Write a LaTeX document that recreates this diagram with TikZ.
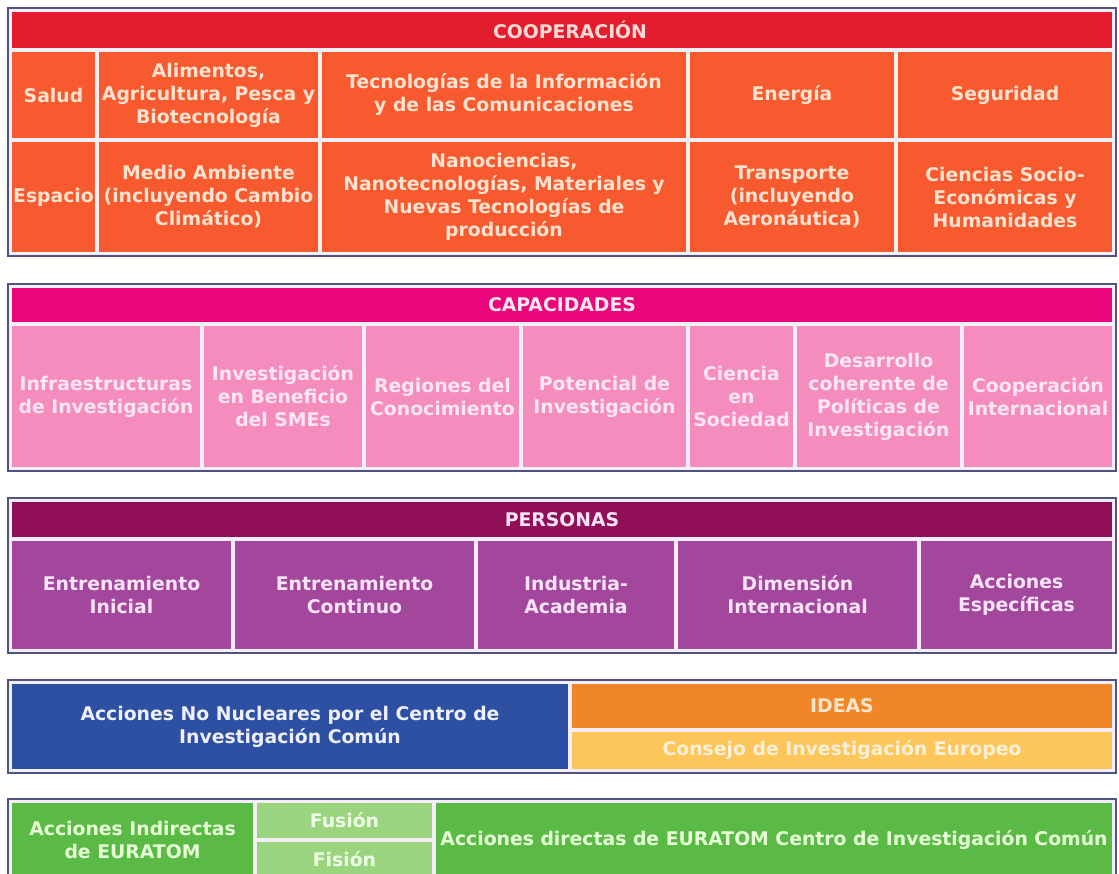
\documentclass[tikz,border=0pt]{standalone}
\usepackage{fontspec}
\setmainfont{DejaVu Sans}
\definecolor{frame}{HTML}{4E5382}
\definecolor{sepc}{HTML}{F3EEF7}
\definecolor{coophead}{HTML}{E31D2D}
\definecolor{coopcell}{HTML}{F65A2E}
\definecolor{cooptext}{HTML}{FFE2CF}
\definecolor{coophtext}{HTML}{FFD9D6}
\definecolor{caphead}{HTML}{E9067A}
\definecolor{capcell}{HTML}{F48DBE}
\definecolor{captext}{HTML}{FDE6F2}
\definecolor{perhead}{HTML}{900F56}
\definecolor{percell}{HTML}{A2479C}
\definecolor{pertext}{HTML}{FBE4FA}
\definecolor{bluecell}{HTML}{2E50A2}
\definecolor{bluetext}{HTML}{EEF0FF}
\definecolor{ideashead}{HTML}{F18628}
\definecolor{ideastext}{HTML}{FFE6CC}
\definecolor{erccell}{HTML}{FCC65A}
\definecolor{erctext}{HTML}{FFF1D9}
\definecolor{greencell}{HTML}{5BBA46}
\definecolor{greentext}{HTML}{E6FFD6}
\definecolor{lgreencell}{HTML}{9AD47E}
\definecolor{lgreentext}{HTML}{EEFFE6}
\newcommand{\cellbox}[7]{\node[#6, minimum width={#4-#2}, minimum height={#5-#3}] (#1) at ({(#2+#4)/2},{(#3+#5)/2}) {#7};}
\begin{document}
\begin{tikzpicture}[x=1pt,y=-1pt,
  every node/.style={inner sep=0pt, outer sep=0pt, align=center,
    font=\fontsize{18.8}{23}\selectfont\bfseries},
  block/.style={draw=frame, line width=1.5pt, fill=sepc},
  cooph/.style={fill=coophead, text=coophtext},
  coopc/.style={fill=coopcell, text=cooptext},
  caph/.style={fill=caphead, text=captext},
  capc/.style={fill=capcell, text=captext},
  perh/.style={fill=perhead, text=pertext},
  perc/.style={fill=percell, text=pertext},
  bluec/.style={fill=bluecell, text=bluetext},
  ideash/.style={fill=ideashead, text=ideastext},
  ercc/.style={fill=erccell, text=erctext},
  greenc/.style={fill=greencell, text=greentext},
  lgreenc/.style={fill=lgreencell, text=lgreentext}]
\useasboundingbox (0,0) rectangle (1119,874);
\clip (0,0) rectangle (1119,874);
\fill[white] (0,0) rectangle (1119,874);
% Block 1: COOPERACION
\cellbox{b1}{8}{8}{1116}{256}{block}{}
\cellbox{h1}{12}{12}{1112}{48}{cooph}{}
\node[text=coophtext] (h1t) at (570,30) {COOPERACIÓN};
\cellbox{c11}{12}{52}{95}{138}{coopc}{Salud}
\cellbox{c12}{99}{52}{318}{138}{coopc}{Alimentos,\\Agricultura, Pesca y\\Biotecnología}
\cellbox{c13}{322}{52}{686}{138}{coopc}{Tecnologías de la Información\\y de las Comunicaciones}
\cellbox{c14}{690}{52}{894}{138}{coopc}{Energía}
\cellbox{c15}{898}{52}{1112}{138}{coopc}{Seguridad}
\cellbox{c21}{12}{142}{95}{252}{coopc}{Espacio}
\cellbox{c22}{99}{142}{318}{252}{coopc}{Medio Ambiente\\(incluyendo Cambio\\Climático)}
\cellbox{c23}{322}{142}{686}{252}{coopc}{Nanociencias,\\Nanotecnologías, Materiales y\\Nuevas Tecnologías de\\producción}
\cellbox{c24}{690}{142}{894}{252}{coopc}{Transporte\\(incluyendo\\Aeronáutica)}
\cellbox{c25}{898}{142}{1112}{252}{coopc}{Ciencias Socio-\\Económicas y\\Humanidades}
% Block 2: CAPACIDADES
\cellbox{b2}{8}{284}{1116}{471}{block}{}
\cellbox{h2}{12}{288}{1112}{322}{caph}{CAPACIDADES}
\cellbox{d1}{12}{326}{200}{467}{capc}{Infraestructuras\\de Investigación}
\cellbox{d2}{204}{326}{362}{467}{capc}{Investigación\\en Beneficio\\del SMEs}
\cellbox{d3}{366}{326}{519}{467}{capc}{Regiones del\\Conocimiento}
\cellbox{d4}{523}{326}{686}{467}{capc}{Potencial de\\Investigación}
\cellbox{d5}{690}{326}{793}{467}{capc}{Ciencia\\en\\Sociedad}
\cellbox{d6}{797}{326}{960}{467}{capc}{Desarrollo\\coherente de\\Políticas de\\Investigación}
\cellbox{d7}{964}{326}{1112}{467}{capc}{Cooperación\\Internacional}
% Block 3: PERSONAS
\cellbox{b3}{8}{498}{1116}{653}{block}{}
\cellbox{h3}{12}{502}{1112}{537}{perh}{PERSONAS}
\cellbox{p1}{12}{541}{231}{649}{perc}{Entrenamiento\\Inicial}
\cellbox{p2}{235}{541}{474}{649}{perc}{Entrenamiento\\Continuo}
\cellbox{p3}{478}{541}{674}{649}{perc}{Industria-\\Academia}
\cellbox{p4}{678}{541}{917}{649}{perc}{Dimensión\\Internacional}
\cellbox{p5}{921}{541}{1112}{649}{perc}{Acciones\\Específicas}
% Block 4: JRC + IDEAS
\cellbox{b4}{8}{680}{1116}{773}{block}{}
\cellbox{jrc}{12}{684}{568}{769}{bluec}{Acciones No Nucleares por el Centro de\\Investigación Común}
\cellbox{h4}{572}{684}{1112}{728}{ideash}{IDEAS}
\cellbox{erc}{572}{732}{1112}{769}{ercc}{Consejo de Investigación Europeo}
% Block 5: EURATOM
\cellbox{b5}{8}{799}{1116}{885}{block}{}
\cellbox{e1}{12}{803}{253}{877}{greenc}{Acciones Indirectas\\de EURATOM}
\cellbox{e2}{257}{803}{432}{838}{lgreenc}{Fusión}
\cellbox{e3}{257}{842}{432}{877}{lgreenc}{Fisión}
\cellbox{e4}{436}{803}{1112}{877}{greenc}{Acciones directas de EURATOM Centro de Investigación Común}
\end{tikzpicture}
\end{document}
